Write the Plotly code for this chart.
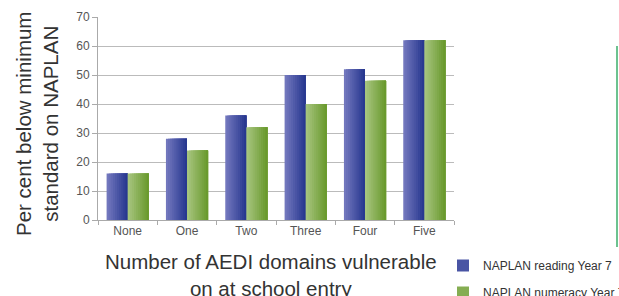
import plotly.graph_objects as go

categories = ["None", "One", "Two", "Three", "Four", "Five"]
reading_y7 = [16, 28, 36, 50, 52, 62]
numeracy_y7 = [16, 24, 32, 40, 48, 62]
series_names = ["NAPLAN reading Year 7", "NAPLAN numeracy Year 7"]
y_ticks = [0, 10, 20, 30, 40, 50, 60, 70]

# body margin removed by post_script, figure drawn slightly larger than the window
W, H = 640, 320
# plot area in page pixels: x 98..454, y 17..220
PX0, PX1, PY0, PY1 = 98, 454, 17, 220
L, T = PX0, PY0
R, B = W - PX1, H - PY1
PW, PH = PX1 - PX0, PY1 - PY0

def px(xpage):
    return (xpage - PX0) / PW

def py(ypage):
    return (PY1 - ypage) / PH

def lerp(c1, c2, t):
    a = [int(c1[i:i + 2], 16) for i in (1, 3, 5)]
    b = [int(c2[i:i + 2], 16) for i in (1, 3, 5)]
    return "rgb(%d,%d,%d)" % tuple(round(a[j] + (b[j] - a[j]) * t) for j in range(3))

grads = [("#7277bd", "#283890"), ("#a6c47e", "#6a9a2e")]
bar_w = 0.355
N = 10
fig = go.Figure()
for s, (vals, name) in enumerate(zip([reading_y7, numeracy_y7], series_names)):
    base = -bar_w if s == 0 else 0.0
    for k in range(N):
        t = k / (N - 1)
        start = base + k * bar_w / N
        fig.add_trace(go.Bar(
            x=categories, y=vals,
            width=[base + bar_w - start] * len(categories),
            offset=[start] * len(categories),
            marker=dict(color=lerp(grads[s][0], grads[s][1], t), line=dict(width=0), opacity=1),
            name=name, legendgroup=name,
            showlegend=(k == N // 2),
            hoverinfo="skip" if k != N // 2 else None,
        ))

FAM = "Liberation Sans, Arial, sans-serif"
axis_font = dict(family=FAM, size=12, color="#555555")
title_font = dict(family=FAM, size=20.5, color="#333333")

fig.update_layout(
    width=W, height=H,
    margin=dict(l=L, r=R, t=T, b=B, autoexpand=False),
    paper_bgcolor="white", plot_bgcolor="white",
    barmode="overlay",
    font=dict(family=FAM),
    xaxis=dict(
        type="category", tickfont=axis_font,
        showline=True, linecolor="#aaaaaa", linewidth=1,
        ticks="outside", tickson="boundaries", ticklen=4, tickcolor="#aaaaaa",
        showgrid=False,
    ),
    yaxis=dict(
        range=[0, 70], tickvals=y_ticks, tickfont=axis_font,
        showline=True, linecolor="#aaaaaa", linewidth=1,
        ticks="outside", ticklen=5, tickcolor="#aaaaaa",
        showgrid=True, gridcolor="#bbbbbb", gridwidth=1,
        zeroline=False,
    ),
    legend=dict(
        x=px(443), y=py(251),
        xanchor="left", yanchor="top",
        traceorder="grouped", tracegroupgap=8,
        font=dict(family=FAM, size=12, color="#333333"),
        bgcolor="rgba(0,0,0,0)",
    ),
    annotations=[
        dict(text="Per cent below minimum<br>standard on NAPLAN",
             xref="paper", yref="paper",
             x=px(37), y=py(124),
             textangle=-90, showarrow=False, font=title_font,
             xanchor="center", yanchor="middle"),
        dict(text="Number of AEDI domains vulnerable<br>on at school entry",
             xref="paper", yref="paper",
             x=px(271), y=py(275),
             showarrow=False, font=title_font,
             xanchor="center", yanchor="middle"),
    ],
    shapes=[
        dict(type="line", xref="paper", yref="paper",
             x0=px(617), x1=px(617), y0=py(46), y1=py(247),
             line=dict(color="#6cc28f", width=2)),
    ],
)

fig.write_html(
    "out.html",
    config={"displayModeBar": False},
    post_script=(
        "document.documentElement.style.overflow='hidden';"
        "document.body.style.overflow='hidden';"
        "document.body.style.margin='0';"
    ),
)
